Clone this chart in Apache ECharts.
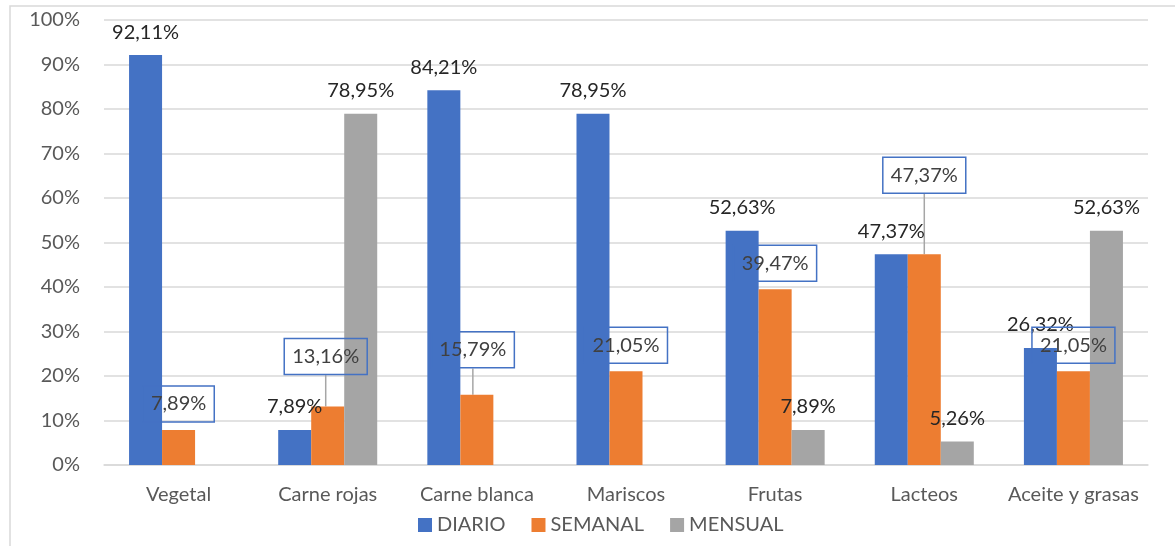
<!DOCTYPE html>
<html>
<head>
<meta charset="utf-8">
<title>Frecuencia de consumo</title>
<script src="https://cdn.jsdelivr.net/npm/echarts@6/dist/echarts.min.js"></script>
<style>
  html, body { margin: 0; padding: 0; background: #fff; }
  #chart { width: 1175px; height: 546px; }
</style>
</head>
<body>
<div id="chart"></div>
<script>
  // datos
  const categorias = ['Vegetal', 'Carne rojas', 'Carne blanca', 'Mariscos', 'Frutas', 'Lacteos', 'Aceite y grasas']
  const diario = [92.11, 7.89, 84.21, 78.95, 52.63, 47.37, 26.32]
  const semanal = [7.89, 13.16, 15.79, 21.05, 39.47, 47.37, 21.05]
  const mensual = [0, 78.95, 0, 0, 7.89, 5.26, 52.63]
  const nombres = ['DIARIO', 'SEMANAL', 'MENSUAL']
  const colores = ['#4472C4', '#ED7D31', '#A5A5A5']

  // desplazamiento de las etiquetas con recuadro (serie SEMANAL)
  const desplazSemanal = [[0, 0], [-2, -24], [-4, -19], [0, 0], [0, 0], [0, -53], [0, 0]]

  const fuente = 'Lato, "Open Sans", sans-serif'
  const fmt = (v) => v.toFixed(2).replace('.', ',') + '%'

  function itemsPlanos(valores) {
    return valores.map(v => ({
      value: v,
      label: { show: v > 0 }
    }))
  }

  function itemsRecuadro(valores) {
    return valores.map((v, i) => {
      const movido = desplazSemanal[i][0] !== 0 || desplazSemanal[i][1] !== 0
      return {
        value: v,
        label: {
          show: true,
          distance: 8,
          color: '#404040',
          borderColor: '#4472C4',
          borderWidth: 1.5,
          padding: [8, 8]
        },
        labelLine: { show: movido }
      }
    })
  }

  const labelBase = {
    show: true,
    position: 'top',
    distance: 13,
    color: '#262626',
    fontFamily: fuente,
    fontSize: 20,
    formatter: (p) => fmt(p.value)
  }

  const chart = echarts.init(document.getElementById('chart'))
  chart.setOption({
    animation: false,
    textStyle: { fontFamily: fuente },
    graphic: [{
      type: 'rect',
      shape: { x: 10, y: 6, width: 1300, height: 700 },
      style: { fill: 'none', stroke: '#D9D9D9', lineWidth: 1.5 },
      silent: true
    }],
    grid: { left: 104, right: 27, top: 20, bottom: 81 },
    legend: {
      data: nombres,
      left: 413,
      top: 510,
      icon: 'rect',
      itemWidth: 14,
      itemHeight: 14,
      itemGap: 26,
      textStyle: { color: '#595959', fontSize: 20, fontFamily: fuente }
    },
    xAxis: {
      type: 'category',
      data: categorias,
      axisTick: { show: false },
      axisLine: { lineStyle: { color: '#D9D9D9', width: 1.5 } },
      axisLabel: { color: '#595959', fontSize: 20, fontFamily: fuente, margin: 20, interval: 0 }
    },
    yAxis: {
      type: 'value',
      min: 0,
      max: 100,
      interval: 10,
      axisLine: { show: false },
      axisTick: { show: false },
      splitLine: { lineStyle: { color: '#D9D9D9', width: 1.5 } },
      axisLabel: { color: '#595959', fontSize: 20, fontFamily: fuente, margin: 24, formatter: '{value}%' }
    },
    series: [
      {
        name: nombres[0],
        type: 'bar',
        barGap: '0%',
        barCategoryGap: '33.6%',
        itemStyle: { color: colores[0] },
        label: labelBase,
        data: itemsPlanos(diario)
      },
      {
        name: nombres[1],
        type: 'bar',
        barGap: '0%',
        barCategoryGap: '33.6%',
        itemStyle: { color: colores[1] },
        label: labelBase,
        labelLine: { show: false, lineStyle: { color: '#A6A6A6', width: 1.5 } },
        labelLayout: (p) => ({ dx: desplazSemanal[p.dataIndex][0], dy: desplazSemanal[p.dataIndex][1] }),
        data: itemsRecuadro(semanal)
      },
      {
        name: nombres[2],
        type: 'bar',
        barGap: '0%',
        barCategoryGap: '33.6%',
        itemStyle: { color: colores[2] },
        label: labelBase,
        data: itemsPlanos(mensual)
      }
    ]
  })
</script>
</body>
</html>
